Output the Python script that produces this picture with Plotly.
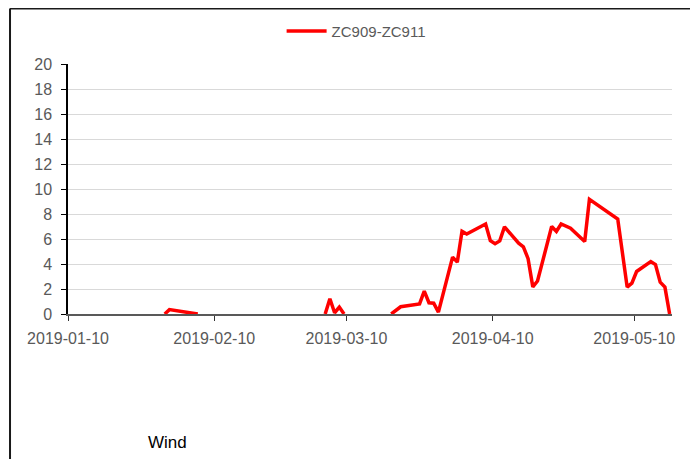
import pandas as pd
import plotly.graph_objects as go

series_name = "ZC909-ZC911"
dates = [
    "2019-01-30", "2019-01-31", "2019-02-06", "2019-02-07",
    "2019-03-05", "2019-03-06", "2019-03-07", "2019-03-08", "2019-03-09", "2019-03-10",
    "2019-03-19", "2019-03-21", "2019-03-25", "2019-03-26", "2019-03-27", "2019-03-28", "2019-03-29",
    "2019-04-01", "2019-04-02", "2019-04-03", "2019-04-04", "2019-04-08", "2019-04-09", "2019-04-10",
    "2019-04-11", "2019-04-12", "2019-04-15", "2019-04-16", "2019-04-17", "2019-04-18", "2019-04-19",
    "2019-04-22", "2019-04-23", "2019-04-24", "2019-04-26", "2019-04-29", "2019-04-30",
    "2019-05-06", "2019-05-08", "2019-05-09", "2019-05-10", "2019-05-13", "2019-05-14",
    "2019-05-15", "2019-05-16", "2019-05-17",
]
values = [
    0, 0.35, 0, None,
    0, 1.22, 0.1, 0.55, 0, None,
    0, 0.58, 0.81, 1.83, 0.9, 0.86, 0.15,
    4.55, 4.15, 6.62, 6.4, 7.2, 5.87, 5.62,
    5.85, 6.97, 5.67, 5.38, 4.43, 2.17, 2.64,
    7.0, 6.6, 7.2, 6.86, 5.8, 9.18,
    7.6, 2.15, 2.47, 3.4, 4.2, 3.95,
    2.55, 2.15, 0,
]
x_ticks = ["2019-01-10", "2019-02-10", "2019-03-10", "2019-04-10", "2019-05-10"]
y_ticks = list(range(0, 21, 2))
x_range = ["2019-01-10", "2019-05-18"]
footer_text = "Wind"

# points sit in the middle of each day (Excel date axis, between tick marks)
x_vals = pd.to_datetime(dates) + pd.Timedelta(hours=12)

font_family = "Liberation Sans, Arial, sans-serif"
tick_color = "#595959"

fig = go.Figure()
fig.add_trace(go.Scatter(
    x=x_vals, y=values, mode="lines", name=series_name,
    line=dict(color="#ff0000", width=3.5), connectgaps=False,
))

frame_line = dict(color="#1a1a1a", width=2)
fx0, fx1, fy0, fy1 = -0.096, 1.0315, -0.65, 1.222

fig.update_layout(
    width=690, height=451,
    margin=dict(l=60, r=26, t=56, b=145, autoexpand=False),
    paper_bgcolor="white", plot_bgcolor="white",
    font=dict(family=font_family, size=16, color=tick_color),
    showlegend=True,
    legend=dict(orientation="h", x=0.477, xanchor="center", y=1.131, yanchor="middle",
                font=dict(size=15, color=tick_color), itemwidth=40,
                bgcolor="rgba(0,0,0,0)"),
    xaxis=dict(
        type="date", range=x_range,
        tickvals=x_ticks, ticktext=x_ticks,
        showgrid=False, zeroline=False,
        showline=True, linecolor="#595959", linewidth=1.5,
        ticks="outside", ticklen=5, tickcolor="#333333", tickwidth=1,
        ticklabelstandoff=4,
        tickfont=dict(size=16, color=tick_color),
    ),
    yaxis=dict(
        range=[0, 20], tickvals=y_ticks,
        showgrid=True, gridcolor="#d9d9d9", gridwidth=1,
        zeroline=False,
        showline=True, linecolor="#000000", linewidth=1.5,
        ticks="outside", ticklen=5, tickcolor="#000000", tickwidth=1,
        ticklabelstandoff=6,
        tickfont=dict(size=16, color=tick_color),
    ),
    shapes=[
        dict(type="line", xref="paper", yref="paper", x0=fx0, x1=fx0, y0=fy0, y1=fy1, line=frame_line),
        dict(type="line", xref="paper", yref="paper", x0=fx0, x1=fx1, y0=fy1, y1=fy1, line=frame_line),
        dict(type="line", xref="paper", yref="paper", x0=fx1, x1=fx1, y0=fy0, y1=fy1, line=frame_line),
    ],
    annotations=[dict(
        text=footer_text, xref="paper", yref="paper", x=0.165, y=-0.514,
        xanchor="center", yanchor="middle", showarrow=False,
        font=dict(size=17, color="#000000", family=font_family),
    )],
)

fig.write_html("out.html")
